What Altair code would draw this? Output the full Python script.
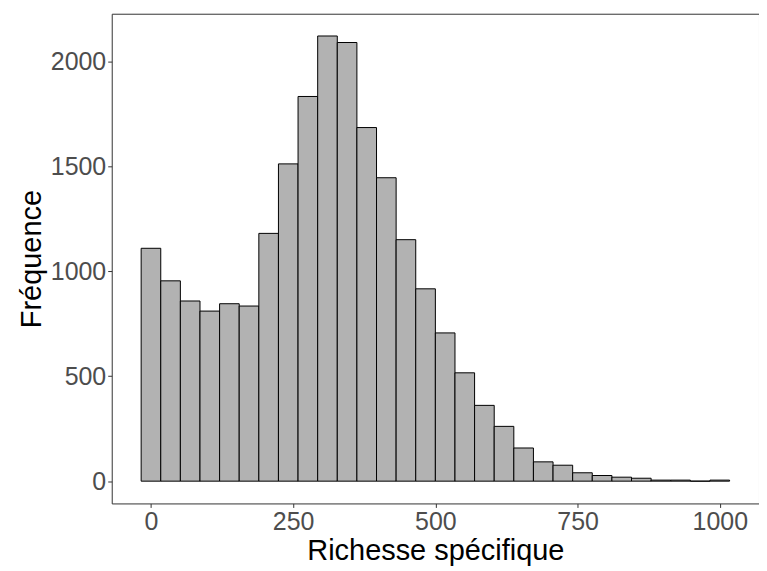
import altair as alt
import pandas as pd

# Histogram counts (30 bins, ggplot-style: bins centred on 0 ... 1000)
counts = [1109, 954, 858, 810, 845, 834, 1180, 1511, 1832, 2120,
          2089, 1684, 1445, 1150, 916, 706, 516, 361, 261, 158,
          92, 76, 40, 27, 19, 14, 5, 5, 0, 5]
data_min = 0
data_max = 1000
n_bins = 30
x_ticks = [0, 250, 500, 750, 1000]
y_ticks = [0, 500, 1000, 1500, 2000]

bw = (data_max - data_min) / (n_bins - 1)
starts = [data_min - bw / 2 + i * bw for i in range(n_bins)]
ends = [s + bw for s in starts]
df = pd.DataFrame({"start": starts, "end": ends, "count": counts})

x_lo, x_hi = starts[0], ends[-1]
x_pad = 0.05 * (x_hi - x_lo)
y_hi = max(counts)
y_pad = 0.05 * y_hi

chart = alt.Chart(df).mark_bar(
    fill="#B2B2B2", stroke="black", strokeWidth=1, binSpacing=0
).encode(
    x=alt.X("start:Q",
            scale=alt.Scale(domain=[x_lo - x_pad, x_hi + x_pad], nice=False, zero=False),
            axis=alt.Axis(values=x_ticks, title="Richesse spécifique", format="d",
                          titlePadding=2)),
    x2="end:Q",
    y=alt.Y("count:Q",
            scale=alt.Scale(domain=[-y_pad, y_hi + y_pad], nice=False, zero=False),
            axis=alt.Axis(values=y_ticks, title="Fréquence", format="d")),
    y2=alt.datum(0),
).properties(
    width=649, height=491,
    autosize=alt.AutoSizeParams(type="none"),
    padding={"left": 104, "top": 5, "right": 0, "bottom": 66},
).configure_view(
    stroke="#333333", strokeWidth=1
).configure_axis(
    domain=False, grid=False,
    tickColor="#333333", tickSize=4, tickWidth=1,
    labelFont="Liberation Sans", labelFontSize=25, labelColor="#4D4D4D",
    labelPadding=2,
    titleFont="Liberation Sans", titleFontSize=29, titleFontWeight="normal",
    titleColor="black", titlePadding=4,
)

chart.save("out.html", embed_options={"renderer": "svg", "actions": False})
